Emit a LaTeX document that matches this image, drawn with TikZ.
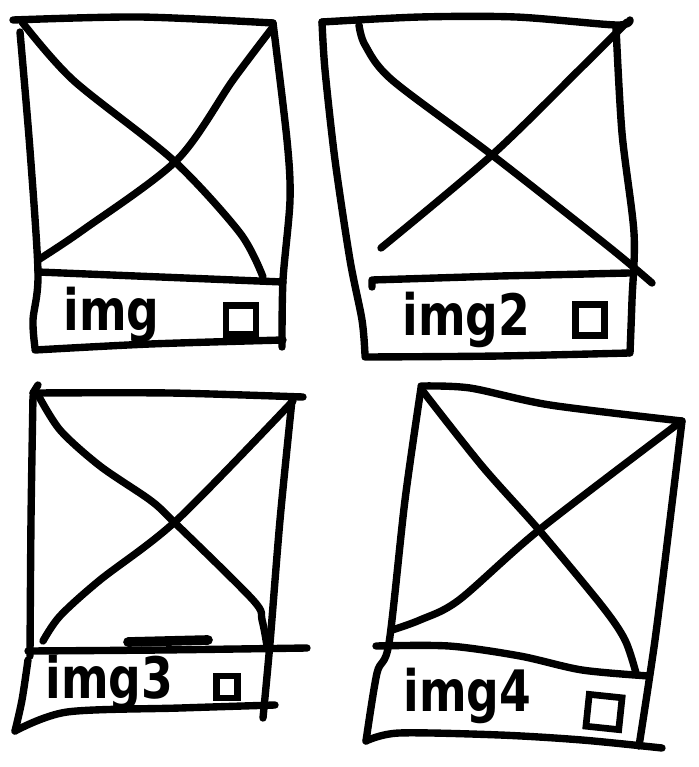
\documentclass[tikz,border=0pt]{standalone}
\usepackage{fontspec}
\newfontfamily\handfont{DejaVu Sans}
\begin{document}
\begin{tikzpicture}[x=0.02cm,y=-0.02cm,
  pen/.style={line width=4.2pt,line cap=round,line join=round},
  caption/.style={font=\handfont\bfseries\fontsize{26}{26}\selectfont,inner sep=0pt,anchor=base west,yscale=1.25},
  chk/.style={draw,line width=3.8pt,inner sep=0pt}]
\useasboundingbox (0,0) rectangle (698,767);

% card 1
\draw[pen] plot[smooth] coordinates {(13,20) (140,17) (273,23)};
\draw[pen] plot[smooth] coordinates {(20,32) (30,150) (38,273) (33,320) (35,348)};
\draw[pen] plot[smooth] coordinates {(273,23) (287,140) (290,200) (283,280) (282,347)};
\draw[pen] (38,272) -- (283,282);
\draw[pen] plot[smooth] coordinates {(35,350) (150,344) (283,340)};
\draw[pen] plot[smooth] coordinates {(22,22) (73,80) (173,160) (240,233) (263,277)};
\draw[pen] plot[smooth] coordinates {(273,27) (233,80) (177,160) (83,230) (38,260)};
\node[caption] (cap1) at (63,330) {img};
\node[chk,minimum width=0.6cm,minimum height=0.58cm] (chk1) at (241,320) {};

% card 2
\draw[pen] plot[smooth] coordinates {(322,22) (420,17) (516,17) (616,25) (630,20)};
\draw[pen] plot[smooth] coordinates {(322,22) (325,70) (335,160) (350,260) (362,320) (365,355)};
\draw[pen] plot[smooth] coordinates {(616,27) (622,133) (634,233) (632,300) (630,353)};
\draw[pen] (372,287) -- (372,280) -- (500,276) -- (629,273);
\draw[pen] plot[smooth] coordinates {(365,357) (500,356) (629,353)};
\draw[pen] plot[smooth] coordinates {(359,25) (365,45) (392,80) (492,155) (609,247) (652,283)};
\draw[pen] plot[smooth] coordinates {(627,22) (582,67) (492,155) (381,248)};
\node[caption] (cap2) at (402,335) {img2};
\node[chk,minimum width=0.58cm,minimum height=0.62cm] (chk2) at (590,320) {};

% card 3
\draw[pen] (38,385) -- (33,393);
\draw[pen] plot[smooth] coordinates {(33,393) (170,393) (303,397)};
\draw[pen] plot[smooth] coordinates {(33,396) (31,520) (30,656)};
\draw[pen] plot[smooth] coordinates {(28,660) (22,700) (15,731)};
\draw[pen] plot[smooth] coordinates {(292,400) (280,520) (270,643) (263,718)};
\draw[pen] plot[smooth] coordinates {(28,651) (160,650) (307,648)};
\draw[pen] plot[smooth] coordinates {(15,731) (67,712) (180,708) (275,705)};
\draw[pen,line width=5.5pt] (128,642) -- (208,640);
\draw[pen] plot[smooth] coordinates {(37,393) (60,430) (100,466) (150,500) (173,521) (253,600) (262,620) (267,646)};
\draw[pen] plot[smooth] coordinates {(293,401) (177,520) (100,580) (60,616) (43,641)};
\node[caption] (cap3) at (45,698) {img3};
\node[chk,minimum width=0.42cm,minimum height=0.44cm] (chk3) at (227,687) {};

% card 4
\draw[pen] plot[smooth] coordinates {(421,386) (470,388) (550,405) (682,421)};
\draw[pen] plot[smooth] coordinates {(421,388) (405,500) (389,643) (377,673) (366,741)};
\draw[pen] plot[smooth] coordinates {(682,421) (670,520) (655,640) (639,746)};
\draw[pen] plot[smooth] coordinates {(376,646) (449,646) (520,656) (582,670) (649,676)};
\draw[pen] plot[smooth] coordinates {(366,741) (399,733) (500,735) (582,740) (662,748)};
\draw[pen] plot[smooth] coordinates {(422,390) (482,466) (539,530) (602,606) (625,640) (636,673)};
\draw[pen] plot[smooth] coordinates {(679,423) (539,530) (459,600) (420,620) (392,630)};
\node[caption] (cap4) at (403,711) {img4};
\node[chk,minimum width=0.66cm,minimum height=0.64cm,rotate=-6] (chk4) at (604,712) {};
\end{tikzpicture}
\end{document}
